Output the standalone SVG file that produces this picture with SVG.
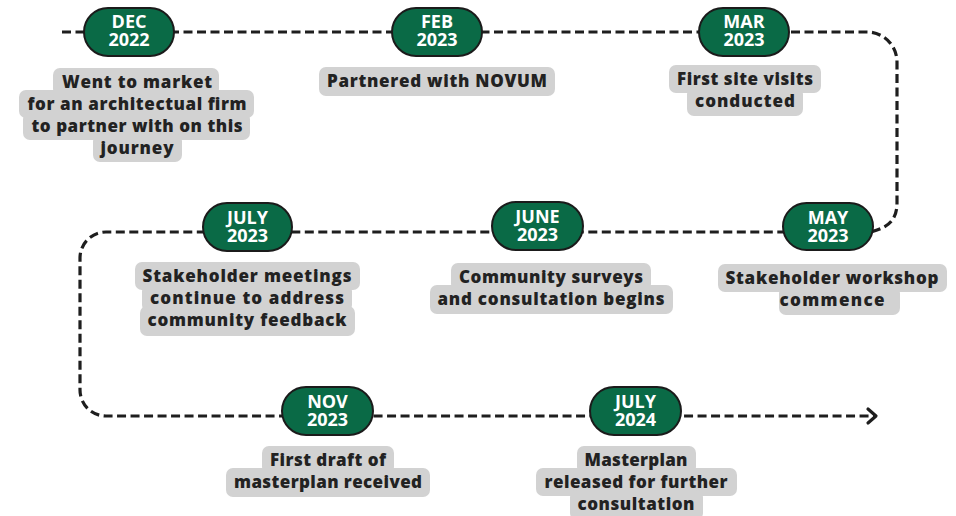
<svg xmlns="http://www.w3.org/2000/svg" width="956" height="516" viewBox="0 0 956 516">
<style>
.pill{fill:#0a6a46;stroke:#1b1b1b;stroke-width:2}
.pt{font-family:"Open Sans","Liberation Sans",sans-serif;font-weight:700;font-size:18px;fill:#ffffff;text-anchor:middle}
.bg{fill:#d2d2d2}
.lt{font-family:"Open Sans","Liberation Sans",sans-serif;font-weight:800;font-size:17px;fill:#222222;text-anchor:middle}
.conn{fill:none;stroke:#1e1e1e;stroke-width:3.2;stroke-dasharray:9 4.5}
.head{fill:none;stroke:#1e1e1e;stroke-width:3.2;stroke-linecap:round;stroke-linejoin:round}
</style>
<rect width="956" height="516" fill="#ffffff"/>
<g id="connectors">
<path class="conn" d="M 62 32 H 867 A 30 30 0 0 1 897 62 V 203 C 897 220 888 228 870 232 H 106 A 26 26 0 0 0 80 258 V 390 A 26 26 0 0 0 106 416 H 874"/>
<polyline class="head" points="868,409 876,416 868,423"/>
</g>
<g id="dec2022">
<rect class="pill" x="84" y="8" width="90" height="48" rx="24"/>
<text class="pt" x="129" y="27.5">DEC</text>
<text class="pt" x="129" y="46">2022</text>
<rect class="bg" x="53" y="68" width="166" height="28" rx="7"/>
<rect class="bg" x="19" y="90" width="235" height="28" rx="7"/>
<rect class="bg" x="23" y="112" width="227" height="28" rx="7"/>
<rect class="bg" x="93" y="134" width="89" height="28" rx="7"/>
<text class="lt" x="137" y="88" textLength="150">Went to market</text>
<text class="lt" x="137" y="110" textLength="219">for an architectual firm</text>
<text class="lt" x="137" y="132" textLength="211">to partner with on this</text>
<text class="lt" x="137" y="154" textLength="73">journey</text>
</g>
<g id="feb2023">
<rect class="pill" x="392" y="8" width="90" height="48" rx="24"/>
<text class="pt" x="437" y="27.5">FEB</text>
<text class="pt" x="437" y="46">2023</text>
<rect class="bg" x="319" y="67" width="236" height="29" rx="7"/>
<text class="lt" x="437" y="87" textLength="220">Partnered with NOVUM</text>
</g>
<g id="mar2023">
<rect class="pill" x="699" y="8" width="90" height="48" rx="24"/>
<text class="pt" x="744" y="27.5">MAR</text>
<text class="pt" x="744" y="46">2023</text>
<rect class="bg" x="669" y="65" width="152" height="28" rx="7"/>
<rect class="bg" x="687" y="87" width="116" height="29" rx="7"/>
<text class="lt" x="745" y="85" textLength="136">First site visits</text>
<text class="lt" x="745" y="107" textLength="100">conducted</text>
</g>
<g id="may2023">
<rect class="pill" x="783" y="203" width="90" height="47" rx="23.5"/>
<text class="pt" x="828" y="223.5">MAY</text>
<text class="pt" x="828" y="242">2023</text>
<rect class="bg" x="718" y="264" width="229" height="28" rx="7"/>
<rect class="bg" x="779" y="286" width="121" height="29" rx="7"/>
<text class="lt" x="832" y="284" textLength="213">Stakeholder workshop</text>
<text class="lt" x="832" y="306" textLength="105">commence</text>
</g>
<g id="june2023">
<rect class="pill" x="492" y="202" width="91" height="48" rx="24"/>
<text class="pt" x="537.5" y="222.5">JUNE</text>
<text class="pt" x="537.5" y="241">2023</text>
<rect class="bg" x="451" y="263" width="200" height="28" rx="7"/>
<rect class="bg" x="430" y="285" width="243" height="29" rx="7"/>
<text class="lt" x="551" y="283" textLength="184">Community surveys</text>
<text class="lt" x="551" y="305" textLength="227">and consultation begins</text>
</g>
<g id="july2023">
<rect class="pill" x="203" y="203" width="89" height="48" rx="24"/>
<text class="pt" x="247.5" y="223.5">JULY</text>
<text class="pt" x="247.5" y="242">2023</text>
<rect class="bg" x="135" y="262" width="225" height="28" rx="7"/>
<rect class="bg" x="142" y="284" width="210" height="28" rx="7"/>
<rect class="bg" x="140" y="306" width="215" height="30" rx="7"/>
<text class="lt" x="247" y="282" textLength="209">Stakeholder meetings</text>
<text class="lt" x="247" y="304" textLength="194">continue to address</text>
<text class="lt" x="247" y="326" textLength="199">community feedback</text>
</g>
<g id="nov2023">
<rect class="pill" x="282" y="387" width="91" height="48" rx="24"/>
<text class="pt" x="327.5" y="407.5">NOV</text>
<text class="pt" x="327.5" y="426">2023</text>
<rect class="bg" x="262" y="446" width="132" height="28" rx="7"/>
<rect class="bg" x="226" y="468" width="204" height="29" rx="7"/>
<text class="lt" x="328" y="466" textLength="116">First draft of</text>
<text class="lt" x="328" y="488" textLength="188">masterplan received</text>
</g>
<g id="july2024">
<rect class="pill" x="590" y="387" width="91" height="48" rx="24"/>
<text class="pt" x="635.5" y="407.5">JULY</text>
<text class="pt" x="635.5" y="426">2024</text>
<rect class="bg" x="577" y="446" width="119" height="28" rx="7"/>
<rect class="bg" x="536" y="468" width="201" height="28" rx="7"/>
<rect class="bg" x="570" y="490" width="133" height="30" rx="7"/>
<text class="lt" x="636" y="466" textLength="103">Masterplan</text>
<text class="lt" x="636" y="488" textLength="183">released for further</text>
<text class="lt" x="636" y="510" textLength="117">consultation</text>
</g>
</svg>
